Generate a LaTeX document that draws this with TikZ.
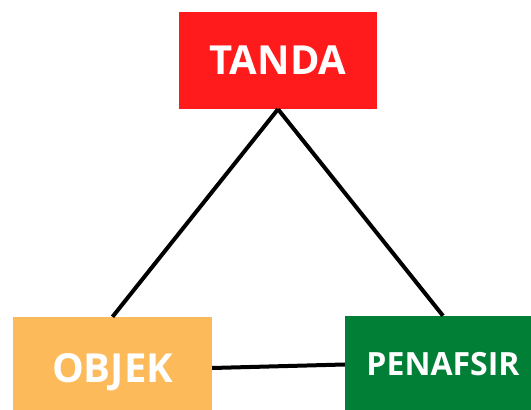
\documentclass[tikz,border=0pt]{standalone}
\usepackage{fontspec}
\setmainfont{Open Sans}
\definecolor{tandared}{RGB}{255,27,28}
\definecolor{objekorange}{RGB}{253,186,90}
\definecolor{penafgreen}{RGB}{2,127,54}
\tikzset{
  box/.style={rectangle, inner sep=0pt, text=white, font=\bfseries, text depth=0pt},
  conn/.style={line width=4pt, black}
}
\begin{document}
\begin{tikzpicture}[x=1pt,y=1pt]
\useasboundingbox (0,0) rectangle (531,410);
\clip (0,0) rectangle (531,410);
\node[box, fill=tandared, minimum width=198pt, minimum height=97pt, text height=28.6pt, font=\bfseries\fontsize{40}{40}\selectfont] (tanda) at (278,349.5) {TANDA};
\node[box, fill=objekorange, minimum width=199pt, minimum height=102pt, text height=28.6pt, font=\bfseries\fontsize{40}{40}\selectfont] (objek) at (112.5,42) {OBJEK};
\node[box, fill=penafgreen, minimum width=196pt, minimum height=97pt, text height=22.8pt, font=\bfseries\fontsize{32}{32}\selectfont] (penafsir) at (443,45.5) {PENAFSIR};
\draw[conn] (tanda.south) -- (objek.north);
\draw[conn] (tanda.south) -- (penafsir.north);
\draw[conn] (objek.east) -- (penafsir.west);
\end{tikzpicture}
\end{document}
